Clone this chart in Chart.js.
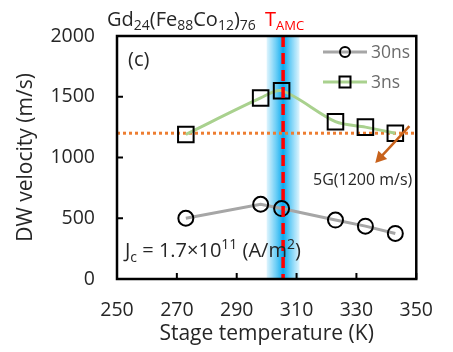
<!DOCTYPE html>
<html><head><meta charset="utf-8">
<script src="https://cdn.jsdelivr.net/npm/chart.js@4"></script>
<style>html,body{margin:0;padding:0;background:#fff}#wrap{width:453px;height:352px}</style>
</head><body><div id="wrap"><canvas id="c" width="453" height="352"></canvas></div>
<script>
const temps = [273, 298, 305, 323, 333, 343];
const v30ns = [500, 615, 580, 485, 435, 375];
const v3ns = [1190, 1490, 1550, 1295, 1250, 1200];
const xTicks = [250, 270, 290, 310, 330, 350];
const yTicks = [0, 500, 1000, 1500, 2000];
const tAMC = 305.5;
const bandHalf = 5.5;
const v5G = 1200;

const FONT = '"Open Sans", sans-serif';
const TXT = '#262626';

function rich(ctx, x, y, segs) {
  for (const s of segs) {
    ctx.font = s.size + 'px ' + FONT;
    ctx.fillStyle = s.color || TXT;
    ctx.fillText(s.t, x, y + (s.dy || 0));
    x += ctx.measureText(s.t).width;
  }
  return x;
}

const deco = {
  id: 'deco',
  beforeDatasetsDraw(chart) {
    const {ctx, chartArea: a, scales: {x, y}} = chart;
    ctx.save();
    const x0 = x.getPixelForValue(tAMC - bandHalf), x1 = x.getPixelForValue(tAMC + bandHalf);
    const g = ctx.createLinearGradient(x0, 0, x1, 0);
    g.addColorStop(0, 'rgba(0,170,240,0.12)');
    g.addColorStop(0.3, 'rgba(0,170,240,0.6)');
    g.addColorStop(0.5, 'rgba(0,165,238,0.95)');
    g.addColorStop(0.7, 'rgba(0,170,240,0.6)');
    g.addColorStop(1, 'rgba(0,170,240,0.12)');
    ctx.fillStyle = g;
    ctx.fillRect(x0, a.top, x1 - x0, a.bottom - a.top);
    const yy = y.getPixelForValue(v5G);
    ctx.strokeStyle = '#ed7d31';
    ctx.lineWidth = 3;
    ctx.setLineDash([3, 3]);
    ctx.beginPath(); ctx.moveTo(a.left, yy); ctx.lineTo(a.right, yy); ctx.stroke();
    ctx.restore();
  },
  afterDatasetsDraw(chart) {
    const {ctx, chartArea: a, scales: {x, y}} = chart;
    ctx.save();
    const xr = x.getPixelForValue(tAMC);
    ctx.strokeStyle = '#ff0000';
    ctx.lineWidth = 3.5;
    ctx.setLineDash([11, 6]);
    ctx.beginPath(); ctx.moveTo(xr, a.top); ctx.lineTo(xr, a.bottom); ctx.stroke();
    ctx.setLineDash([]);
    ctx.strokeStyle = '#000';
    ctx.lineWidth = 2.5;
    ctx.strokeRect(a.left, a.top, a.right - a.left, a.bottom - a.top);
    ctx.lineWidth = 2;
    ctx.beginPath();
    for (const t of xTicks) { const px = x.getPixelForValue(t); ctx.moveTo(px, a.bottom); ctx.lineTo(px, a.bottom - 6); }
    for (const t of yTicks) { const py = y.getPixelForValue(t); ctx.moveTo(a.left, py); ctx.lineTo(a.left + 6, py); }
    ctx.stroke();
    // arrow
    const ax0 = x.getPixelForValue(347.7), ay0 = y.getPixelForValue(1259);
    const ax1 = x.getPixelForValue(336.3), ay1 = y.getPixelForValue(955);
    const ang = Math.atan2(ay1 - ay0, ax1 - ax0);
    ctx.strokeStyle = '#c8621c'; ctx.fillStyle = '#c8621c'; ctx.lineWidth = 2.5;
    ctx.beginPath(); ctx.moveTo(ax0, ay0);
    ctx.lineTo(ax1 - 8 * Math.cos(ang), ay1 - 8 * Math.sin(ang)); ctx.stroke();
    ctx.beginPath();
    ctx.moveTo(ax1, ay1);
    ctx.lineTo(ax1 - 11 * Math.cos(ang) + 6 * Math.sin(ang), ay1 - 11 * Math.sin(ang) - 6 * Math.cos(ang));
    ctx.lineTo(ax1 - 11 * Math.cos(ang) - 6 * Math.sin(ang), ay1 - 11 * Math.sin(ang) + 6 * Math.cos(ang));
    ctx.closePath(); ctx.fill();
    // legend
    const leg = [
      {label: '30ns', color: '#a6a6a6', style: 'circle', y: 52},
      {label: '3ns', color: '#a9d18e', style: 'rect', y: 82}
    ];
    for (const l of leg) {
      ctx.strokeStyle = l.color; ctx.lineWidth = 3;
      ctx.beginPath(); ctx.moveTo(323, l.y); ctx.lineTo(367, l.y); ctx.stroke();
      ctx.strokeStyle = '#000'; ctx.lineWidth = 2;
      ctx.beginPath();
      if (l.style === 'circle') ctx.arc(345, l.y, 5, 0, Math.PI * 2);
      else ctx.rect(339.5, l.y - 5.5, 11, 11);
      ctx.stroke();
      ctx.font = '17.5px ' + FONT; ctx.fillStyle = '#6b6b6b';
      ctx.textBaseline = 'middle';
      ctx.fillText(l.label, 371, l.y + 1);
    }
    ctx.textBaseline = 'alphabetic';
    ctx.font = '20px ' + FONT; ctx.fillStyle = TXT;
    ctx.fillText('(c)', 128, 66);
    ctx.font = '16px ' + FONT;
    ctx.fillText('5G(1200 m/s)', 313, 185);
    rich(ctx, 125, 257, [
      {t: 'J', size: 20}, {t: 'c', size: 14, dy: 5}, {t: ' = 1.7×10', size: 20},
      {t: '11', size: 14, dy: -8}, {t: ' (A/m', size: 20}, {t: '2', size: 14, dy: -8}, {t: ')', size: 20}
    ]);
    rich(ctx, 107, 26, [
      {t: 'Gd', size: 20}, {t: '24', size: 14, dy: 4}, {t: '(Fe', size: 20}, {t: '88', size: 14, dy: 4},
      {t: 'Co', size: 20}, {t: '12', size: 14, dy: 4}, {t: ')', size: 20}, {t: '76', size: 14, dy: 4}
    ]);
    rich(ctx, 265, 26, [
      {t: 'T', size: 20, color: '#ff0000'}, {t: 'AMC', size: 13, dy: 4, color: '#ff0000'}
    ]);
    ctx.restore();
  }
};

new Chart(document.getElementById('c'), {
  type: 'line',
  data: {
    datasets: [
      {label: '30ns', data: temps.map((t, i) => ({x: t, y: v30ns[i]})), borderColor: '#a6a6a6', borderWidth: 3,
        pointStyle: 'circle', pointRadius: 7.5, pointBorderWidth: 2, pointBorderColor: '#000', pointBackgroundColor: 'rgba(0,0,0,0)', tension: 0},
      {label: '3ns', data: temps.map((t, i) => ({x: t, y: v3ns[i]})), borderColor: '#a9d18e', borderWidth: 3,
        pointStyle: 'rect', pointRadius: 11, pointBorderWidth: 2, pointBorderColor: '#000', pointBackgroundColor: 'rgba(0,0,0,0)', tension: 0.3}
    ]
  },
  options: {
    responsive: false, animation: false, devicePixelRatio: 1,
    layout: {padding: {top: 36, right: 29, left: 0, bottom: 0}},
    plugins: {legend: {display: false}, tooltip: {enabled: false}},
    scales: {
      x: {
        type: 'linear', min: 250, max: 350,
        afterBuildTicks: s => { s.ticks = xTicks.map(v => ({value: v})); },
        afterFit: s => { s.height = 73; },
        grid: {display: false, drawTicks: false}, border: {display: false},
        ticks: {padding: 20, color: TXT, font: {family: FONT, size: 19.5}, callback: v => String(v)},
        title: {display: true, text: 'Stage temperature (K)', color: TXT, font: {family: FONT, size: 21}, padding: {top: 0, bottom: 5}}
      },
      y: {
        min: 0, max: 2000,
        afterBuildTicks: s => { s.ticks = yTicks.map(v => ({value: v})); },
        afterFit: s => { s.width = 117; },
        grid: {display: false, drawTicks: false}, border: {display: false},
        ticks: {padding: 22, color: TXT, font: {family: FONT, size: 19.5}, callback: v => String(v)},
        title: {display: true, text: 'DW velocity (m/s)', color: TXT, font: {family: FONT, size: 21}, padding: {top: 13, bottom: 0}}
      }
    }
  },
  plugins: [deco]
});
</script></body></html>
